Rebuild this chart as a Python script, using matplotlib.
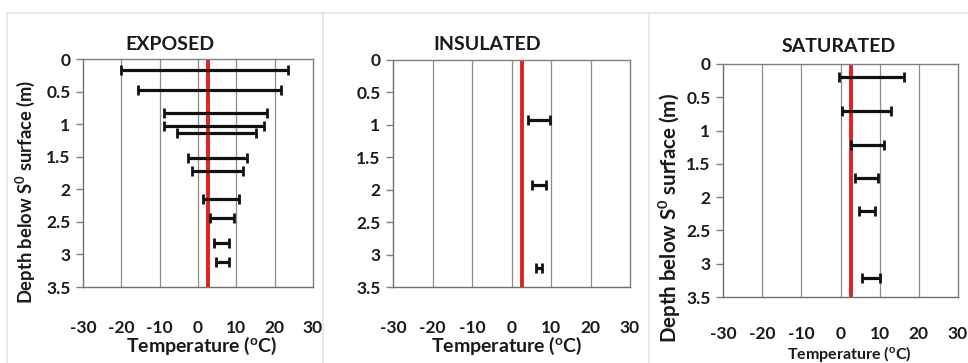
import matplotlib
matplotlib.use("Agg")
import matplotlib.pyplot as plt
from matplotlib.lines import Line2D
import numpy as np

plt.rcParams['font.family'] = ['Lato', 'DejaVu Sans']
plt.rcParams['font.weight'] = 'bold'
plt.rcParams['mathtext.default'] = 'regular'
plt.rcParams['axes.unicode_minus'] = False

W, H = 968, 363

# ---- data (depth in m, min/max temperature in degC) ----
exposed_depth = [0.17, 0.47, 0.83, 1.03, 1.13, 1.52, 1.72, 2.15, 2.44, 2.82, 3.12]
exposed_low   = [-20.0, -15.6, -8.9, -8.9, -5.5, -2.7, -1.6, 1.4, 3.0, 4.3, 4.8]
exposed_high  = [23.4, 21.6, 17.9, 17.2, 15.1, 12.8, 11.8, 10.7, 9.4, 8.1, 8.1]

insulated_depth = [0.93, 1.92, 3.2]
insulated_low   = [4.2, 5.3, 6.2]
insulated_high  = [9.8, 8.7, 7.7]

saturated_depth = [0.2, 0.7, 1.21, 1.71, 2.21, 3.21]
saturated_low   = [-0.4, 0.3, 2.7, 3.7, 4.7, 5.4]
saturated_high  = [16.3, 12.9, 11.0, 9.7, 8.7, 10.0]

mean_temp = 2.7
titles = ["EXPOSED", "INSULATED", "SATURATED"]
x_ticks = [-30, -20, -10, 0, 10, 20, 30]
y_ticks = [0, 0.5, 1, 1.5, 2, 2.5, 3, 3.5]
y_ticklabels = ["0", "0.5", "1", "1.5", "2", "2.5", "3", "3.5"]
ylabel = "Depth below S$^{0}$ surface (m)"
xlabel = "Temperature ($^{o}$C)"

fig = plt.figure(figsize=(W / 100, H / 100), dpi=100)
fig.patch.set_facecolor("white")


def fx(x):
    return x / W


def fy(y):
    return 1 - y / H


# panel separators
sep = "#dde5ee"
fig.add_artist(Line2D([fx(7), fx(968)], [fy(13), fy(13)], color=sep, lw=1.2))
for xs in [7, 323, 649]:
    fig.add_artist(Line2D([fx(xs), fx(xs)], [fy(13), fy(363)], color=sep, lw=1.2))

panels = [
    dict(box=(83, 313, 59, 287), depth=exposed_depth, low=exposed_low, high=exposed_high, xpad=24,
         title_xy=(170, 44), xlabel_xy=(202, 346), xlabel_fs=14, ylabel_xy=(25, 192), ylabel_fs=13.2),
    dict(box=(393, 630, 60, 287), depth=insulated_depth, low=insulated_low, high=insulated_high, xpad=24,
         title_xy=(487, 44), xlabel_xy=(507, 346), xlabel_fs=14, ylabel_xy=None, ylabel_fs=None),
    dict(box=(723, 958, 64, 297), depth=saturated_depth, low=saturated_low, high=saturated_high, xpad=21,
         title_xy=(839, 46), xlabel_xy=(849, 354), xlabel_fs=11.5, ylabel_xy=(670, 218), ylabel_fs=14.8),
]

for p, title in zip(panels, titles):
    l, r, t, b = p["box"]
    ax = fig.add_axes([fx(l), fy(b), (r - l) / W, (b - t) / H])
    ax.set_xlim(-30, 30)
    ax.set_ylim(3.5, 0)
    ax.set_xticks(x_ticks)
    ax.set_yticks(y_ticks)
    ax.set_yticklabels(y_ticklabels)
    ax.tick_params(axis='x', length=0, pad=p["xpad"], labelsize=12.5)
    ax.tick_params(axis='y', length=5, width=1, color="#7f7f7f", pad=4, labelsize=12.5)
    for lab in ax.get_xticklabels() + ax.get_yticklabels():
        lab.set_fontweight('bold')
        lab.set_color("#1a1a1a")
    for xv in x_ticks[1:-1]:
        ax.axvline(xv, color="#8c8c8c", lw=0.9, zorder=1)
    for s in ax.spines.values():
        s.set_color("#7f7f7f")
        s.set_linewidth(1.0)
    ax.spines['left'].set_color("#6f6f6f")
    ax.spines['bottom'].set_color("#6f6f6f")

    ax.axvline(mean_temp, color="#e3201b", lw=2.8, zorder=2)

    low = np.array(p["low"])
    high = np.array(p["high"])
    mid = (low + high) / 2
    half = (high - low) / 2
    ax.errorbar(mid, p["depth"], xerr=half, fmt='none', ecolor="#111111",
                elinewidth=2.3, capsize=3.6, capthick=2.0, zorder=3)

    fig.text(fx(p["title_xy"][0]), fy(p["title_xy"][1]), title, ha='center', va='center',
             fontsize=14, fontweight='bold', color="#1a1a1a")
    fig.text(fx(p["xlabel_xy"][0]), fy(p["xlabel_xy"][1]), xlabel, ha='center', va='center',
             fontsize=p["xlabel_fs"], fontweight='bold', color="#1a1a1a")
    if p["ylabel_xy"] is not None:
        fig.text(fx(p["ylabel_xy"][0]), fy(p["ylabel_xy"][1]), ylabel, ha='center', va='center',
                 rotation=90, fontsize=p["ylabel_fs"], fontweight='bold', color="#1a1a1a")

fig.savefig("out.png", dpi=100, facecolor="white")
